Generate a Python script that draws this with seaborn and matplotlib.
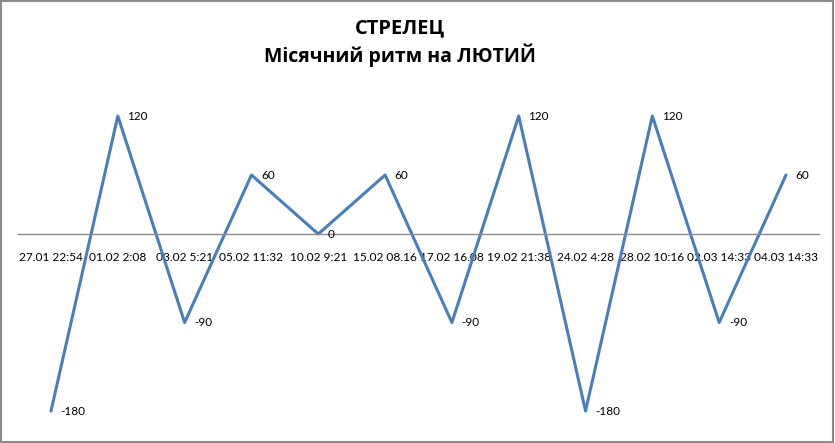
import matplotlib
matplotlib.use('Agg')
import matplotlib.pyplot as plt
import seaborn as sns
import pandas as pd
from matplotlib.patches import Rectangle

dates = ['27.01 22:54', '01.02 2:08', '03.02 5:21', '05.02 11:32', '10.02 9:21',
         '15.02 08.16', '17.02 16.08', '19.02 21:38', '24.02 4:28', '28.02 10:16',
         '02.03 14:33', '04.03 14:33']
rhythm = [-180, 120, -90, 60, 0, 60, -90, 120, -180, 120, -90, 60]

df = pd.DataFrame({'Date': dates, 'Rhythm': rhythm})
df['pos'] = range(len(df))

sns.set_style('white')
plt.rcParams['font.family'] = ['Lato', 'DejaVu Sans']

fig = plt.figure(figsize=(8.35, 4.43), dpi=100)
ax = fig.add_axes([17.6/835, 12.3/443, (819.4-17.6)/835, (430.7-86.5)/443])

sns.lineplot(data=df, x='pos', y='Rhythm', ax=ax, color='#4A7EBB', linewidth=2.2)
ax.set_xlim(-0.5, len(df) - 0.5)
ax.set_ylim(-200, 150)

for i, v in enumerate(rhythm):
    ax.annotate(str(v), (i, v), xytext=(7, 0), textcoords='offset points',
                ha='left', va='center', fontsize=8.5, color='black')

for s in ['top', 'right', 'left']:
    ax.spines[s].set_visible(False)
ax.spines['bottom'].set_position(('data', 0))
ax.spines['bottom'].set_color('#8C8C8C')
ax.spines['bottom'].set_linewidth(1)
ax.set_yticks([])
ax.set_xticks(df['pos'])
ax.set_xticklabels(dates, fontsize=8.6, color='black')
ax.tick_params(axis='x', length=0, pad=13)
ax.set_xlabel('')
ax.set_ylabel('')

fig.text(400/835, 1 - 28/443, 'СТРЕЛЕЦ', ha='center', va='center', color='black',
         fontsize=14.5, fontweight='bold', family=['Open Sans', 'DejaVu Sans'])
fig.text(400/835, 1 - 55/443, 'Місячний ритм на ЛЮТИЙ', ha='center', va='center',
         color='black', fontsize=14, fontweight='bold', family=['Open Sans', 'DejaVu Sans'])

fig.patches.append(Rectangle((0.001, 0.002), 0.997, 0.996, transform=fig.transFigure,
                             fill=False, edgecolor='#8C8C8C', linewidth=1.5))

fig.savefig('out.png', dpi=100)
